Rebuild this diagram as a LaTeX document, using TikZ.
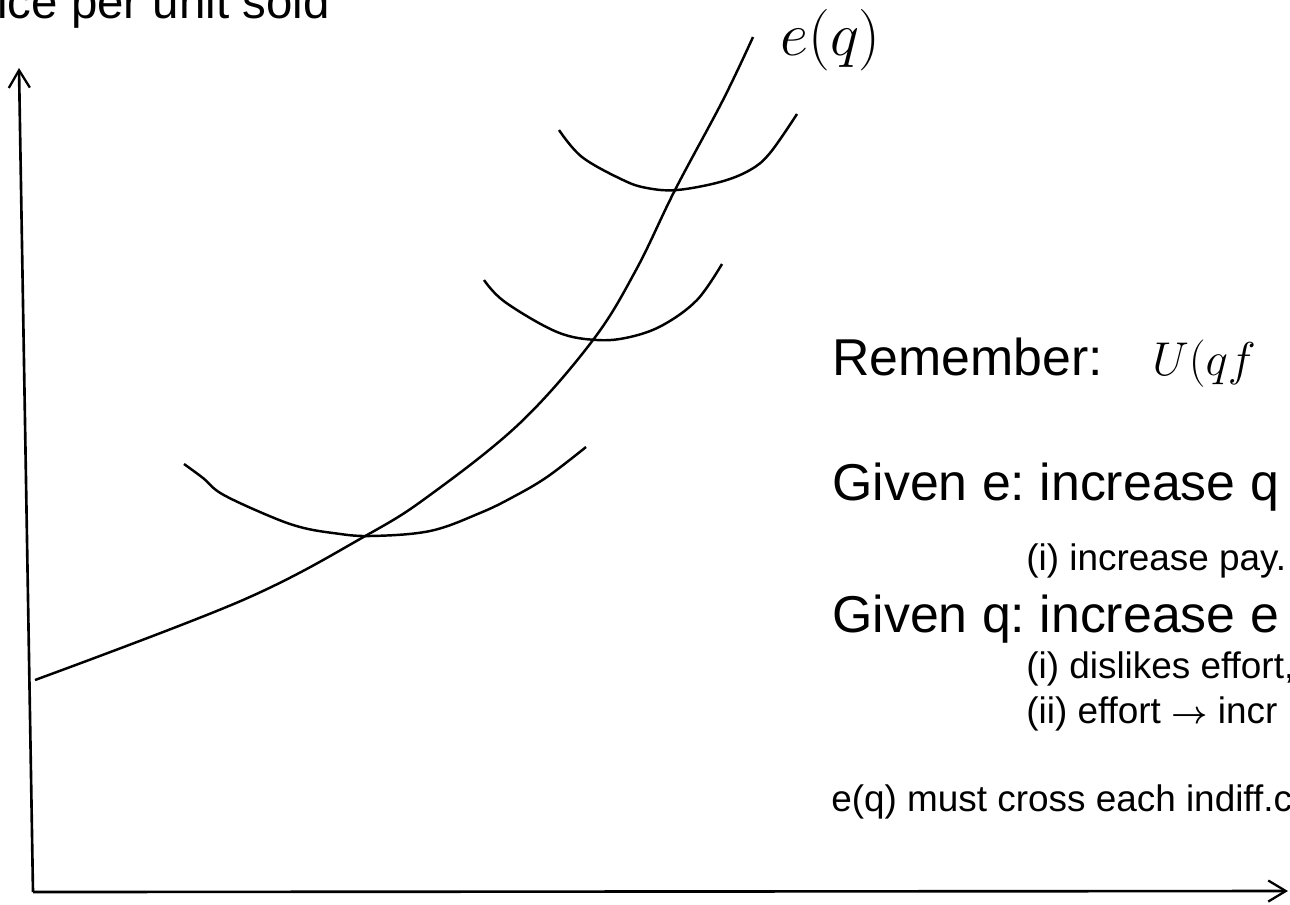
\RequirePackage{fix-cm}
\documentclass[tikz,border=0pt]{standalone}
\usepackage{amsmath}
\usepackage{fontspec}
\setmainfont{Liberation Sans}
\usepackage{tikz}
\usetikzlibrary{arrows.meta}

\tikzset{
  axis/.style={line width=1.5pt, -{Straight Barb[length=10pt,width=12pt,line width=1.3pt]}},
  curve/.style={line width=1.4pt},
  bigtext/.style={anchor=base west, inner sep=0pt, font=\fontsize{29.5}{35}\selectfont},
  smalltext/.style={anchor=base west, inner sep=0pt, font=\fontsize{21}{25}\selectfont},
}

\begin{document}
\frenchspacing
\begin{tikzpicture}[x=0.02cm, y=-0.02cm]
                    \useasboundingbox (0,0) rectangle (1290,904);
                    \clip (0,0) rectangle (1290,904);
                    % Axes
                    \coordinate (O) at (33,892);
                    \coordinate (ytop) at (19,68);
                    \coordinate (xend) at (1288,891);
                    \draw[axis] (O) -- (ytop);
                    \draw[axis] (O) -- (xend);
                    % Curves
                    \draw[curve] plot[smooth, tension=0.6] coordinates {(35,680) (243,600) (367,535) (430,495) (520,423) (593,340) (636,270) (675,190) (723,100) (753,37)};
                    \draw[curve] plot[smooth, tension=0.6] coordinates {(184,464) (203,478) (222,494) (267,515) (300,527) (333,533) (370,536) (430,531) (480,513) (513,497) (547,477) (586,447)};
                    \draw[curve] plot[smooth, tension=0.6] coordinates {(484,280) (505,302) (557,332) (597,340) (630,337) (663,325) (697,300) (722,264)};
                    \draw[curve] plot[smooth, tension=0.6] coordinates {(559,130) (582,157) (623,180) (647,188) (677,190) (720,182) (750,170) (770,153) (797,114)};
                    % Labels
                    \node[anchor=base west, inner sep=0pt, font=\fontsize{27}{32}\selectfont] (ylabel) at (-3,18) {ice per unit sold};
                    \node[anchor=base west, inner sep=0pt, font=\fontsize{35}{42}\selectfont] (elabel) at (780,55) {$e(q)$};
                    \node[bigtext] (remember) at (832,375) {Remember:};
                    \node[anchor=base west, inner sep=0pt, font=\fontsize{27}{32}\selectfont] (utility) at (1152,375) {$U(qf$};
                    \node[bigtext] (givene) at (832,500) {Given e: increase q};
                    \node[smalltext] (pay) at (1026,570) {(i) increase pay.};
                    \node[bigtext] (givenq) at (832,632) {Given q: increase e};
                    \node[smalltext] (dislike) at (1026,678) {(i) dislikes effort,};
                    \node[smalltext] (effort) at (1026,723) {(ii) effort {\fontsize{18}{20}\selectfont$\boldsymbol{\rightarrow}$} incr};
                    \node[smalltext] (cross) at (831,811) {e(q) must cross each indiff.c};
                \end{tikzpicture}
\end{document}
